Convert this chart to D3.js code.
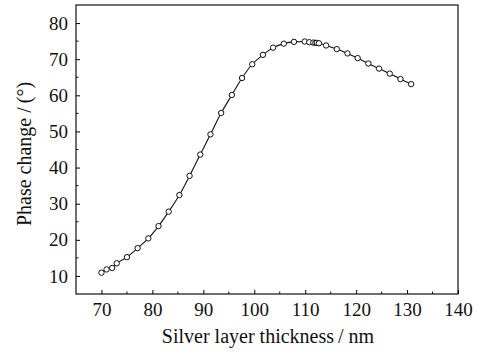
<!DOCTYPE html>
<html>
<head>
<meta charset="utf-8">
<style>
  body { margin: 0; background: #fff; }
  text { font-family: "Liberation Serif", "Times New Roman", serif; fill: #111; }
  .line { fill: none; stroke: #111; stroke-width: 1.1; }
  .dot { fill: #fff; stroke: #111; stroke-width: 1; }
</style>
</head>
<body>
<svg id="container" width="492" height="354"></svg>
<script src="https://cdn.jsdelivr.net/npm/d3@7"></script>
<script>
// silver layer thickness (nm)
let thickness = [70, 71, 72.1, 73, 75, 77.1, 79.2, 81.2, 83.2, 85.3, 87.3, 89.4,
  91.4, 93.5, 95.6, 97.6, 99.6, 101.7, 103.7, 105.8, 107.8, 109.9, 110.8, 111.6,
  112.0, 112.3, 112.7, 114.1, 116.2, 118.3, 120.3, 122.4, 124.5, 126.6, 128.7, 130.8]
// phase change (deg)
let phase = [10.9, 11.8, 12.2, 13.5, 15.2, 17.7, 20.4, 23.8, 27.8, 32.4, 37.7, 43.6,
  49.2, 55.1, 60.1, 64.8, 68.6, 71.2, 73.2, 74.3, 74.8, 74.9, 74.7, 74.6,
  74.5, 74.5, 74.4, 73.8, 72.8, 71.6, 70.3, 68.8, 67.4, 66.0, 64.5, 63.1]
let xTicks = [70, 80, 90, 100, 110, 120, 130, 140]
let yTicks = [10, 20, 30, 40, 50, 60, 70, 80]

let svg = d3.select("#container")
let pLeft = 76, pRight = 458, pTop = 5, pBottom = 294

let x = d3.scaleLinear().domain([65, 140]).range([pLeft, pRight])
let y = d3.scaleLinear().domain([5, 85]).range([pBottom, pTop])

let data = thickness.map((t, i) => ({ t: t, p: phase[i] }))

// frame
svg.append("rect")
  .attr("x", pLeft).attr("y", pTop)
  .attr("width", pRight - pLeft).attr("height", pBottom - pTop)
  .attr("fill", "none").attr("stroke", "#111").attr("stroke-width", 1.2)

// x axis, ticks pointing inward
let xAxis = d3.axisBottom(x).tickValues(xTicks).tickSize(-4).tickPadding(9).tickSizeOuter(0)
let gx = svg.append("g").attr("transform", "translate(0," + pBottom + ")").call(xAxis)
gx.select(".domain").remove()
gx.selectAll("text").style("font-size", "19px").attr("dy", "0.71em")
let xMinor = d3.range(75, 140, 10)
svg.append("g").selectAll("line").data(xMinor).enter().append("line")
  .attr("x1", d => x(d)).attr("x2", d => x(d))
  .attr("y1", pBottom).attr("y2", pBottom - 2.5)
  .attr("stroke", "#111")

let yAxis = d3.axisLeft(y).tickValues(yTicks).tickSize(-4).tickPadding(8).tickSizeOuter(0)
let gy = svg.append("g").attr("transform", "translate(" + pLeft + ",0)").call(yAxis)
gy.select(".domain").remove()
gy.selectAll("text").style("font-size", "19px")
let yMinor = d3.range(15, 85, 10)
svg.append("g").selectAll("line").data(yMinor).enter().append("line")
  .attr("x1", pLeft).attr("x2", pLeft + 2.5)
  .attr("y1", d => y(d)).attr("y2", d => y(d))
  .attr("stroke", "#111")

// curve + markers
let line = d3.line().x(d => x(d.t)).y(d => y(d.p)).curve(d3.curveMonotoneX)
svg.append("path").datum(data).attr("class", "line").attr("d", line)

svg.selectAll(".dot").data(data).enter().append("circle")
  .attr("class", "dot")
  .attr("cx", d => x(d.t)).attr("cy", d => y(d.p))
  .attr("r", 2.7)

// axis titles
svg.append("text")
  .attr("x", 268).attr("y", 343)
  .attr("text-anchor", "middle")
  .style("font-size", "20px")
  .text("Silver layer thickness\u2009/ nm")

svg.append("text")
  .attr("transform", "translate(31,154) rotate(-90)")
  .attr("text-anchor", "middle")
  .style("font-size", "20px")
  .text("Phase change /\u2009(\u00b0)")
</script>
</body>
</html>
